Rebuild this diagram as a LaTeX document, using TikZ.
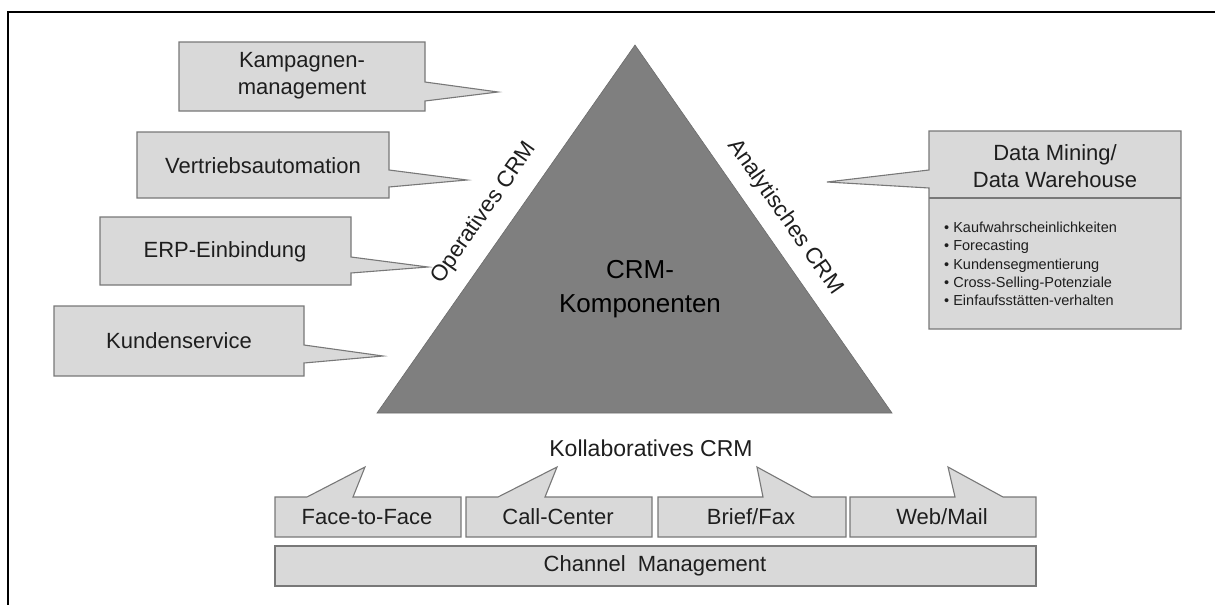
\documentclass[tikz,border=0pt]{standalone}
\usepackage{fontspec}
\setmainfont{Liberation Sans}
\definecolor{boxfill}{RGB}{217,217,217}
\definecolor{boxline}{RGB}{120,120,120}
\definecolor{trifill}{RGB}{127,127,127}
\definecolor{txt}{RGB}{30,30,30}
\begin{document}
\begin{tikzpicture}[x=1pt,y=-1pt,
  box/.style={draw=boxline, fill=boxfill, line width=1.1pt, line join=miter},
  lbl/.style={font=\fontsize{22}{27}\selectfont, text=txt, align=center, inner sep=0pt},
  sidelbl/.style={font=\fontsize{22.5}{26}\selectfont, text=txt, inner sep=0pt},
  bullets/.style={font=\fontsize{14.5}{18.3}\selectfont, text=txt, align=left, inner sep=0pt}]
\useasboundingbox (0,0) rectangle (1215,605);

% outer frame (top and left edges)
\draw[line width=2pt] (1215,12) -- (7.5,12) -- (7.5,605);

% pyramid
\draw[fill=trifill, draw=trifill!85!black, line width=0.6pt]
  (635,45) -- (892,413) -- (377,413) -- cycle;
\node[font=\fontsize{26}{34}\selectfont, text=black, align=center, inner sep=0pt]
  (crm) at (640,289) {CRM-\\Komponenten};
\node[sidelbl, rotate=55] (oper) at (484,213) {Operatives CRM};
\node[sidelbl, rotate=-55] (anal) at (785,217) {Analytisches CRM};
\node[lbl, font=\fontsize{23}{27}\selectfont] (koll) at (651,448) {Kollaboratives CRM};

% operative callouts (pointer on the right edge)
\draw[box] (179,42) -- (425,42) -- (425,82) -- (498,92) -- (425,101) -- (425,111) -- (179,111) -- cycle;
\node[lbl] (kamp) at (302,76) {Kampagnen-\\management};

\draw[box] (137,132) -- (389,132) -- (389,170) -- (467,180) -- (389,187) -- (389,198) -- (137,198) -- cycle;
\node[lbl] (vert) at (263,166) {Vertriebsautomation};

\draw[box] (100,217) -- (351,217) -- (351,257) -- (428,267) -- (351,273) -- (351,285) -- (100,285) -- cycle;
\node[lbl] (erp) at (225,252) {ERP-Einbindung};

\draw[box] (54,306) -- (304,306) -- (304,345) -- (383,356) -- (304,363) -- (304,376) -- (54,376) -- cycle;
\node[lbl] (kund) at (179,341) {Kundenservice};

% analytical callout (pointer on the left edge)
\draw[box] (929,131) -- (1181,131) -- (1181,329) -- (929,329) -- (929,188) -- (827,182) -- (929,170) -- cycle;
\draw[draw=boxline, line width=1.1pt] (929,198) -- (1181,198);
\node[lbl] (dm) at (1055,166) {Data Mining/\\Data Warehouse};
\node[bullets, anchor=west] (dmlist) at (944,264)
  {\textbullet\ Kaufwahrscheinlichkeiten\\
   \textbullet\ Forecasting\\
   \textbullet\ Kundensegmentierung\\
   \textbullet\ Cross-Selling-Potenziale\\
   \textbullet\ Einfaufsstätten-verhalten};

% collaborative channels (pointer on the top edge)
\draw[box] (275,537) -- (275,497) -- (307,497) -- (365,467) -- (353,497) -- (461,497) -- (461,537) -- cycle;
\node[lbl] (f2f) at (367,517) {Face-to-Face};

\draw[box] (466,537) -- (466,497) -- (498,497) -- (557,467) -- (545,497) -- (652,497) -- (652,537) -- cycle;
\node[lbl] (call) at (558,517) {Call-Center};

\draw[box] (658,537) -- (658,497) -- (763,497) -- (757,467) -- (812,497) -- (846,497) -- (846,537) -- cycle;
\node[lbl] (brief) at (751,517) {Brief/Fax};

\draw[box] (850,537) -- (850,497) -- (955,497) -- (948,467) -- (1003,497) -- (1036,497) -- (1036,537) -- cycle;
\node[lbl] (web) at (942,517) {Web/Mail};

\draw[box] (275,546) rectangle (1036,586);
\node[lbl] (chan) at (655,566) {Channel\ \ Management};
\end{tikzpicture}
\end{document}
